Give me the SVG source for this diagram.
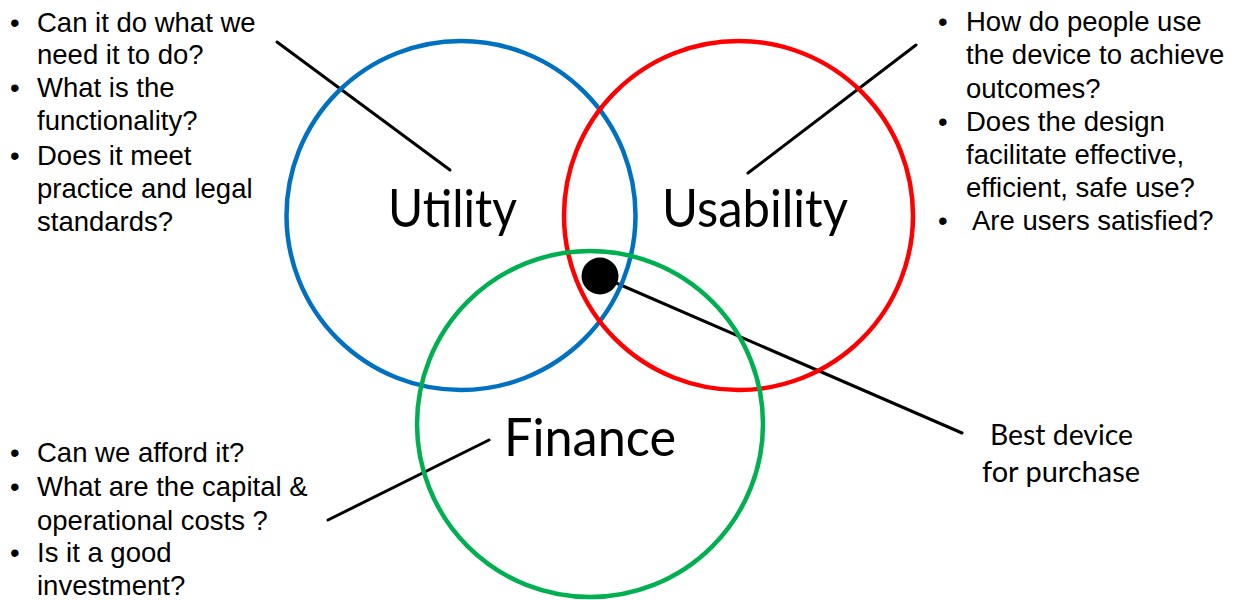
<svg xmlns="http://www.w3.org/2000/svg" width="1234" height="600" viewBox="0 0 1234 600">
<style>
.ring{fill:none;stroke-width:4.5}
.con{stroke:#000;stroke-width:3;fill:none;stroke-linecap:round}
.bul{font-family:"Liberation Sans",Arial,sans-serif;font-size:27.5px;fill:#000}
.lab{font-family:Lato,"Open Sans",sans-serif;font-size:52px;fill:#000}
.note{font-family:Lato,"Open Sans",sans-serif;font-size:28px;fill:#000}
</style>
<rect width="1234" height="600" fill="#fff"/>
<g id="connectors">
<line class="con" x1="277" y1="42" x2="450" y2="170"/>
<line class="con" x1="916" y1="45" x2="748" y2="173"/>
<line class="con" x1="489" y1="440" x2="328" y2="520"/>
<line class="con" x1="600" y1="276" x2="962" y2="433"/>
</g>
<g id="utility">
<circle class="ring" cx="461" cy="215.5" r="174.5" stroke="#0070C0"/>
<text class="lab" x="388" y="227" textLength="129" lengthAdjust="spacingAndGlyphs">Utility</text>
</g>
<g id="usability">
<circle class="ring" cx="738.5" cy="215.5" r="174.5" stroke="#FF0000"/>
<text class="lab" x="662" y="227" textLength="186" lengthAdjust="spacingAndGlyphs">Usability</text>
</g>
<g id="finance">
<circle class="ring" cx="590" cy="424" r="173" stroke="#00B050"/>
<text class="lab" x="504" y="456" textLength="172" lengthAdjust="spacingAndGlyphs">Finance</text>
</g>
<g id="best">
<circle cx="600" cy="276" r="18.5" fill="#000"/>
<text class="note" x="990" y="445" textLength="143" lengthAdjust="spacingAndGlyphs">Best device</text>
<text class="note" x="982" y="482" textLength="158" lengthAdjust="spacingAndGlyphs">for purchase</text>
</g>
<g id="utility-notes" class="bul">
<text x="10" y="32">•</text><text x="37" y="32">Can it do what we</text>
<text x="37" y="64">need it to do?</text>
<text x="10" y="97">•</text><text x="37" y="97">What is the</text>
<text x="37" y="130">functionality?</text>
<text x="10" y="165">•</text><text x="37" y="165">Does it meet</text>
<text x="37" y="198">practice and legal</text>
<text x="37" y="231">standards?</text>
</g>
<g id="usability-notes" class="bul">
<text x="938" y="31">•</text><text x="966" y="31">How do people use</text>
<text x="966" y="64">the device to achieve</text>
<text x="966" y="98">outcomes?</text>
<text x="938" y="131">•</text><text x="966" y="131">Does the design</text>
<text x="966" y="164">facilitate effective,</text>
<text x="966" y="197">efficient, safe use?</text>
<text x="938" y="230">•</text><text x="972" y="230">Are users satisfied?</text>
</g>
<g id="finance-notes" class="bul">
<text x="10" y="462">•</text><text x="37" y="462">Can we afford it?</text>
<text x="10" y="496">•</text><text x="37" y="496">What are the capital &amp;</text>
<text x="37" y="530">operational costs ?</text>
<text x="10" y="562">•</text><text x="37" y="562">Is it a good</text>
<text x="37" y="595">investment?</text>
</g>
</svg>
